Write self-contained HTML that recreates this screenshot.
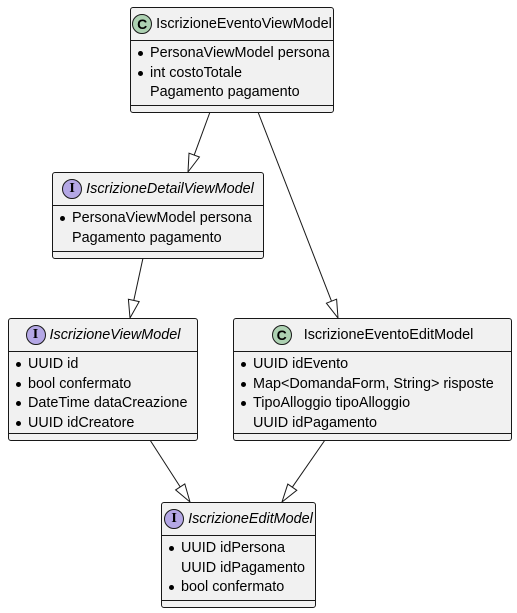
<!DOCTYPE html>
<html><head><meta charset="utf-8"><style>
body{margin:0;width:517px;height:613px;background:#fff;position:relative;overflow:hidden;font-family:"Liberation Sans","DejaVu Sans",sans-serif;font-size:14.4px;color:#000}
.box{position:absolute;background:#F1F1F1;border:1px solid #181818;border-radius:3px;box-sizing:border-box}
.hd{position:absolute;left:0;right:0;top:0;height:32px;border-bottom:1px solid #181818;display:flex;align-items:center;justify-content:center;gap:4px}
.ic{flex-shrink:0;width:20px;height:20px;border-radius:50%;border:1px solid #181818;display:flex;align-items:center;justify-content:center;font-weight:bold;font-size:14px;box-sizing:border-box}
.c{background:#ADD1B2}.i{background:#B4A7E5;font-family:"Liberation Serif",serif}
.it{font-style:italic}
.attrs{position:absolute;left:0;top:36px}
.row{height:19.5px;line-height:19.5px;padding-left:19px;position:relative;white-space:nowrap}
.row.b::before{content:"";position:absolute;left:7px;top:7px;width:5px;height:5px;border-radius:50%;background:#000}
.sep{position:absolute;left:0;right:0;border-top:1px solid #181818}
</style></head><body>
<svg width="517" height="613" style="position:absolute;left:0;top:0">
<g stroke="#181818" stroke-width="1" fill="#fff">
<line x1="210" y1="112" x2="194.2" y2="155.1"/><polygon points="188,172 199.4,157 189,153.2"/>
<line x1="258" y1="112" x2="331.5" y2="301.2"/><polygon points="338,318 336.6,299.2 326.4,303.2"/>
<line x1="143" y1="258" x2="133.8" y2="300.4"/><polygon points="130,318 139.2,301.6 128.4,299.2"/>
<line x1="150" y1="440" x2="180.2" y2="486.9"/><polygon points="190,502 184.8,483.9 175.6,489.9"/>
<line x1="325" y1="440" x2="292.3" y2="487.2"/><polygon points="282,502 296.8,490.3 287.8,484.1"/>
</g></svg>

<div class="box" style="left:130px;top:7px;width:204px;height:106px">
<div class="hd"><div class="ic c">C</div><span>IscrizioneEventoViewModel</span></div>
<div class="attrs"><div class="row b">PersonaViewModel persona</div><div class="row b">int costoTotale</div><div class="row">Pagamento pagamento</div></div>
<div class="sep" style="top:97px"></div></div>

<div class="box" style="left:52px;top:172px;width:212px;height:87px">
<div class="hd"><div class="ic i">I</div><span class="it">IscrizioneDetailViewModel</span></div>
<div class="attrs"><div class="row b">PersonaViewModel persona</div><div class="row">Pagamento pagamento</div></div>
<div class="sep" style="top:78px"></div></div>

<div class="box" style="left:8px;top:318px;width:190px;height:123px">
<div class="hd"><div class="ic i">I</div><span class="it">IscrizioneViewModel</span></div>
<div class="attrs"><div class="row b">UUID id</div><div class="row b">bool confermato</div><div class="row b">DateTime dataCreazione</div><div class="row b">UUID idCreatore</div></div>
<div class="sep" style="top:114px"></div></div>

<div class="box" style="left:233px;top:318px;width:279px;height:123px">
<div class="hd" style="gap:12px"><div class="ic c">C</div><span>IscrizioneEventoEditModel</span></div>
<div class="attrs"><div class="row b">UUID idEvento</div><div class="row b">Map&lt;DomandaForm, String&gt; risposte</div><div class="row b">TipoAlloggio tipoAlloggio</div><div class="row">UUID idPagamento</div></div>
<div class="sep" style="top:114px"></div></div>

<div class="box" style="left:161px;top:502px;width:155px;height:106px">
<div class="hd"><div class="ic i">I</div><span class="it">IscrizioneEditModel</span></div>
<div class="attrs"><div class="row b">UUID idPersona</div><div class="row">UUID idPagamento</div><div class="row b">bool confermato</div></div>
<div class="sep" style="top:97px"></div></div>
</body></html>
